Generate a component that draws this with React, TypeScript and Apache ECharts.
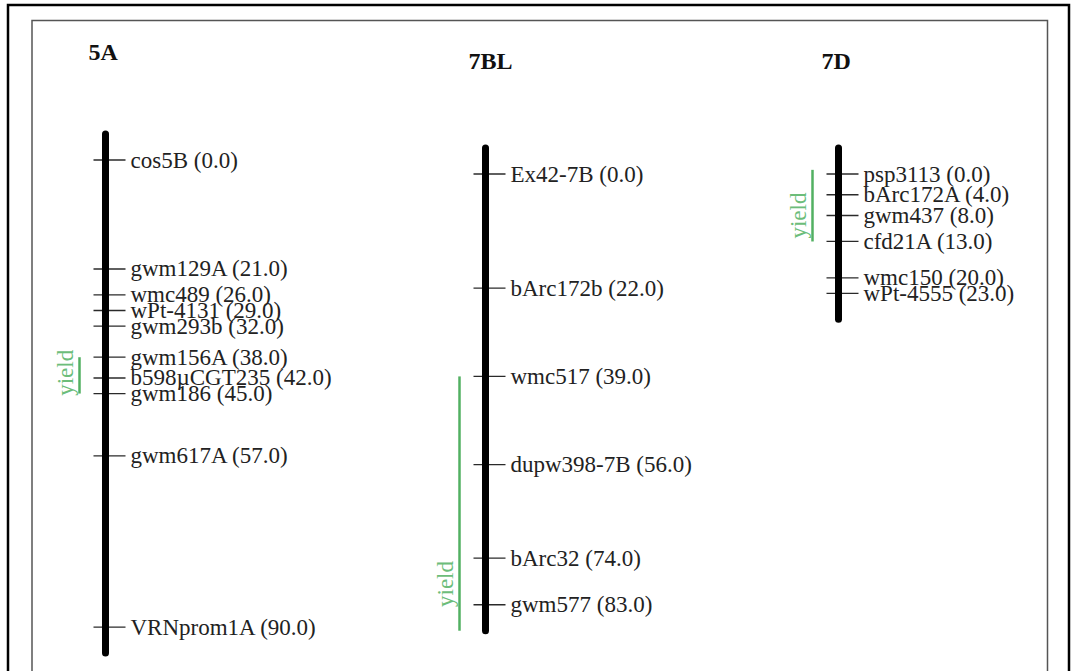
import React, { useEffect, useRef } from "react";
import * as echarts from "echarts";

// ---- data ----
const CHROMOSOMES = ["5A", "7BL", "7D"];

const markers5A = ["cos5B", "gwm129A", "wmc489", "wPt-4131", "gwm293b", "gwm156A", "b598µCGT235", "gwm186", "gwm617A", "VRNprom1A"];
const pos5A = [0, 21, 26, 29, 32, 38, 42, 45, 57, 90];

const markers7BL = ["Ex42-7B", "bArc172b", "wmc517", "dupw398-7B", "bArc32", "gwm577"];
const pos7BL = [0, 22, 39, 56, 74, 83];

const markers7D = ["psp3113", "bArc172A", "gwm437", "cfd21A", "wmc150", "wPt-4555"];
const pos7D = [0, 4, 8, 13, 20, 23];

const qtlChrom = ["5A", "7BL", "7D"];
const qtlTrait = ["yield", "yield", "yield"];
const qtlStart = [38, 39, -0.8];
const qtlEnd = [45, 88, 13];
const qtlPeak = [41, 79, 8];

// ---- layout (pixels) ----
const BAR_X = [105.5, 485.5, 838.5];
const ZERO_Y = [160, 174, 174];
const TITLE_Y = [40, 49, 49];
const PX_PER_CM = 5.19;
const PAD_CM = 5;
const SERIF = '"Liberation Serif", "Times New Roman", serif';
const GREEN_LINE = "#52b062";
const GREEN_TEXT = "#6cbd7a";

const chromMarkers = [markers5A, markers7BL, markers7D];
const chromPos = [pos5A, pos7BL, pos7D];

function buildOption() {
  const grids: any[] = [];
  const xAxes: any[] = [];
  const yAxes: any[] = [];
  const series: any[] = [];
  const graphics: any[] = [];

  CHROMOSOMES.forEach((chr, i) => {
    const pos = chromPos[i];
    const names = chromMarkers[i];
    const len = Math.max(...pos);
    const yMin = -PAD_CM;
    const yMax = len + PAD_CM;
    grids.push({
      left: BAR_X[i] - 20,
      width: 40,
      top: ZERO_Y[i] + yMin * PX_PER_CM,
      height: (yMax - yMin) * PX_PER_CM,
    });
    xAxes.push({ type: "value", gridIndex: i, min: -1, max: 1, show: false });
    yAxes.push({ type: "value", gridIndex: i, min: yMin, max: yMax, inverse: true, show: false });

    // ticks + labels
    series.push({
      type: "custom",
      xAxisIndex: i,
      yAxisIndex: i,
      clip: false,
      z: 2,
      data: pos.map((p) => [0, p]),
      renderItem: (params: any, api: any) => {
        const idx = params.dataIndex;
        const c = api.coord([0, api.value(1)]);
        const label = `${names[idx]} (${pos[idx].toFixed(1)})`;
        return {
          type: "group",
          children: [
            {
              type: "line",
              shape: { x1: c[0] - 12, y1: c[1], x2: c[0] + 20, y2: c[1] },
              style: { stroke: "#2a2a2a", lineWidth: 1.3 },
            },
            {
              type: "text",
              x: c[0] + 25,
              y: c[1],
              style: {
                text: label,
                fill: "#222",
                font: `23px ${SERIF}`,
                align: "left",
                verticalAlign: "middle",
              },
            },
          ],
        };
      },
    });

    // chromosome bar
    series.push({
      type: "custom",
      xAxisIndex: i,
      yAxisIndex: i,
      clip: false,
      z: 3,
      data: [[0, yMin, yMax]],
      renderItem: (params: any, api: any) => {
        const a = api.coord([0, api.value(1)]);
        const b = api.coord([0, api.value(2)]);
        return {
          type: "line",
          shape: { x1: a[0], y1: a[1], x2: b[0], y2: b[1] },
          style: { stroke: "#000", lineWidth: 7, lineCap: "round" },
        };
      },
    });

    // QTL
    const qIdx = qtlChrom.map((q, k) => (q === chr ? k : -1)).filter((k) => k >= 0);
    series.push({
      type: "custom",
      xAxisIndex: i,
      yAxisIndex: i,
      clip: false,
      z: 2,
      data: qIdx.map((k) => [0, qtlStart[k], qtlEnd[k], qtlPeak[k]]),
      renderItem: (params: any, api: any) => {
        const k = qIdx[params.dataIndex];
        const a = api.coord([0, api.value(1)]);
        const b = api.coord([0, api.value(2)]);
        const pk = api.coord([0, api.value(3)]);
        return {
          type: "group",
          children: [
            {
              type: "line",
              shape: { x1: a[0] - 26, y1: a[1], x2: b[0] - 26, y2: b[1] },
              style: { stroke: GREEN_LINE, lineWidth: 2.5 },
            },
            {
              type: "text",
              x: pk[0] - 40,
              y: pk[1],
              rotation: Math.PI / 2,
              style: {
                text: qtlTrait[k],
                fill: GREEN_TEXT,
                font: `23px ${SERIF}`,
                align: "center",
                verticalAlign: "middle",
              },
            },
          ],
        };
      },
    });

    graphics.push({
      type: "text",
      left: BAR_X[i] - 17,
      top: TITLE_Y[i],
      style: {
        text: chr,
        fill: "#111",
        font: `bold 24px ${SERIF}`,
      },
    });
  });

  // frames
  graphics.push({
    type: "rect",
    shape: { x: 8, y: 5, width: 1061, height: 700 },
    style: { fill: "none", stroke: "#000", lineWidth: 2.5 },
    silent: true,
  });
  graphics.push({
    type: "rect",
    shape: { x: 32, y: 20.5, width: 1015.5, height: 700 },
    style: { fill: "none", stroke: "#555", lineWidth: 1.5 },
    silent: true,
  });

  return {
    animation: false,
    backgroundColor: "#fff",
    grid: grids,
    xAxis: xAxes,
    yAxis: yAxes,
    series,
    graphic: graphics,
  };
}

export default function App() {
  const ref = useRef<HTMLDivElement>(null);
  useEffect(() => {
    if (!ref.current) return;
    const chart = echarts.init(ref.current, null, { renderer: "svg" });
    chart.setOption(buildOption() as any);
    return () => chart.dispose();
  }, []);
  return (
    <div
      ref={ref}
      style={{ position: "fixed", left: 0, top: 0, width: 1071, height: 671, background: "#fff" }}
    />
  );
}
